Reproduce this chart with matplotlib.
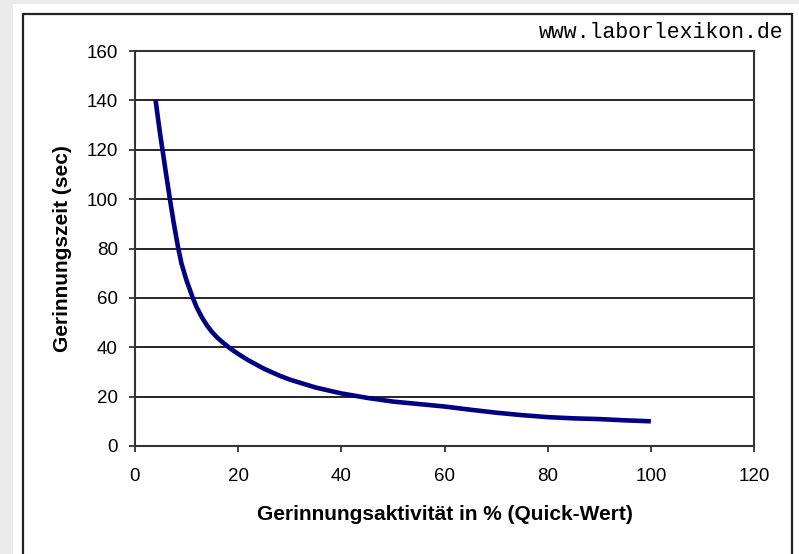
import matplotlib
matplotlib.use("Agg")
import matplotlib.pyplot as plt
from matplotlib.patches import Rectangle

# Quick-Wert (%) vs. Gerinnungszeit (sec)
quick = [4, 4.5, 5, 5.4, 6, 6.8, 7.5, 8.3, 9, 10, 11.2, 12, 13, 14, 15, 16, 17, 18.4,
         20, 22, 25, 28, 30, 35, 40, 45, 50, 55, 60, 65, 70, 75, 80, 85, 90, 95, 100]
zeit = [140, 132, 124.5, 119, 110.5, 99.5, 90.5, 81, 74, 67, 60, 56, 52, 48.7, 46, 43.8, 42, 39.6,
        37.3, 34.7, 31.3, 28.5, 26.9, 23.7, 21.3, 19.5, 18, 17, 16, 14.7, 13.5, 12.5, 11.7,
        11.2, 10.9, 10.4, 10]

xticks = [0, 20, 40, 60, 80, 100, 120]
yticks = [0, 20, 40, 60, 80, 100, 120, 140, 160]

plt.rcParams['font.family'] = ['Liberation Sans', 'DejaVu Sans']

fig = plt.figure(figsize=(7.99, 5.54), dpi=100)
fig.patch.set_facecolor('#ebebeb')

W, H = 799, 554
# white panel with black frame
fig.patches.append(Rectangle((13 / W, 0), 1 - 13 / W, 1 - 4 / H, transform=fig.transFigure,
                             facecolor='white', edgecolor='none', zorder=0))
fig.patches.append(Rectangle((23 / W, -0.05), (792 - 23) / W, 1.05 - 14 / H, transform=fig.transFigure,
                             facecolor='none', edgecolor='#222222', lw=1.6, zorder=1))

ax = fig.add_axes([135 / W, 1 - 446 / H, (754 - 135) / W, (446 - 51) / H])
ax.set_zorder(2)
ax.set_facecolor('white')

ax.plot(quick, zeit, color='#000080', lw=3.3, solid_joinstyle='round', solid_capstyle='butt', zorder=3)

ax.set_xlim(0, 120)
ax.set_ylim(0, 160)
ax.set_xticks(xticks)
ax.set_yticks(yticks)
ax.grid(axis='y', color='black', lw=1.2)
ax.set_axisbelow(True)
for s in ax.spines.values():
    s.set_color('#333333')
    s.set_linewidth(1.5)

ax.tick_params(direction='out', length=4.5, width=1.3, color='#333333', labelsize=13.5)
ax.tick_params(axis='y', pad=8)
ax.tick_params(axis='x', pad=11)

ax.set_xlabel('Gerinnungsaktivität in % (Quick-Wert)', fontsize=15, fontweight='bold', labelpad=15)
ax.set_ylabel('Gerinnungszeit (sec)', fontsize=15, fontweight='bold', labelpad=10)

fig.text(783 / W, 1 - 33 / H, 'www.laborlexikon.de', family=['Liberation Mono', 'DejaVu Sans Mono'],
         fontsize=15.5, ha='right', va='center', zorder=3)

fig.savefig('out.png', dpi=100, facecolor=fig.get_facecolor())
